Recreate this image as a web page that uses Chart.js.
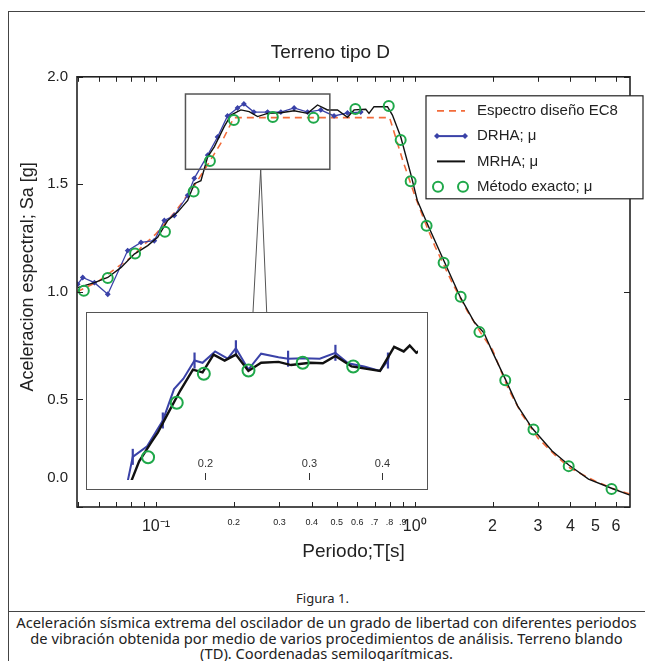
<!DOCTYPE html>
<html>
<head>
<meta charset="utf-8">
<script src="https://cdn.jsdelivr.net/npm/chart.js@4.4.1/dist/chart.umd.min.js"></script>
<style>
  body { margin: 0; background: #fff; }
  #fig { position: relative; width: 645px; height: 661px; overflow: hidden; background: #fff; }
  #frame { position: absolute; left: 8px; top: 11px; width: 700px; height: 700px;
           border-left: 1.5px solid #444; border-top: 1.5px solid #444; }
  #main { position: absolute; left: 0; top: 0; }
  #insetBox { position: absolute; left: 86px; top: 312px; width: 342px; height: 178px;
              border: 1.5px solid #555; box-sizing: border-box; background: #fff; }
  #figLabel { position: absolute; left: 0; top: 589px; width: 645px; text-align: center;
              font: 13px "Noto Sans", sans-serif; color: #222; }
  #caption { position: absolute; left: 8px; top: 611px; width: 637px; padding-top: 3px;
             border-top: 1.5px solid #444; text-align: center;
             font: 14.7px/15.5px "Noto Sans", sans-serif; color: #222; white-space: nowrap; }
</style>
</head>
<body>
<div id="fig">
  <div id="frame"></div>
  <canvas id="main" width="645" height="575"></canvas>
  <div id="insetBox"><canvas id="inset" width="339" height="175"></canvas></div>
  <div id="figLabel">Figura 1.</div>
  <div id="caption">Aceleración sísmica extrema del oscilador de un grado de libertad con diferentes periodos<br>de vibración obtenida por medio de varios procedimientos de análisis. Terreno blando<br>(TD). Coordenadas semilogarítmicas.</div>
</div>
<script>
// main plot: periods T [s] and spectral accel Sa [g]
const ec8T  = [0.0495, 0.06, 0.07, 0.08, 0.09, 0.1, 0.12, 0.14, 0.16, 0.18, 0.2, 0.8, 0.9, 1.0, 1.1, 1.2, 1.4, 1.6, 1.8, 2.0, 2.3, 2.6, 3.0, 3.5, 4.0, 5.0, 6.0, 6.8];
const ec8Sa = [1.00, 1.05, 1.11, 1.16, 1.22, 1.27, 1.38, 1.49, 1.60, 1.70, 1.81, 1.81, 1.61, 1.45, 1.32, 1.21, 1.04, 0.91, 0.81, 0.73, 0.55, 0.43, 0.32, 0.24, 0.18, 0.12, 0.08, 0.06];

const mrhaT  = [0.0498, 0.0578, 0.0651, 0.0733, 0.0824, 0.0929, 0.1015, 0.111, 0.1213, 0.1326, 0.1406, 0.1492, 0.1584, 0.168, 0.1835, 0.1948, 0.2129, 0.2292, 0.247, 0.27, 0.3039, 0.342, 0.3853, 0.4211, 0.4603, 0.503, 0.55, 0.5832, 0.647, 0.666, 0.6964, 0.785, 0.8204, 0.883, 0.965, 1.024, 1.12, 1.297, 1.505, 1.7, 1.852, 2.0, 2.246, 2.5, 2.848, 3.4, 3.943, 4.7, 5.8, 6.8];
const mrhaSa = [1.020, 1.043, 1.067, 1.114, 1.176, 1.215, 1.254, 1.332, 1.371, 1.425, 1.503, 1.517, 1.628, 1.674, 1.768, 1.822, 1.846, 1.838, 1.815, 1.830, 1.833, 1.842, 1.830, 1.869, 1.846, 1.846, 1.812, 1.846, 1.849, 1.830, 1.861, 1.861, 1.822, 1.721, 1.55, 1.425, 1.316, 1.145, 0.973, 0.86, 0.81, 0.72, 0.592, 0.47, 0.366, 0.26, 0.195, 0.13, 0.086, 0.055];

const drhaT  = [0.0498, 0.0521, 0.0578, 0.0651, 0.0777, 0.0875, 0.0985, 0.1077, 0.1177, 0.1326, 0.1406, 0.1584, 0.173, 0.189, 0.2067, 0.2187, 0.239, 0.27, 0.3039, 0.342, 0.3853, 0.4335, 0.488, 0.55, 0.6187];
const drhaSa = [1.036, 1.067, 1.043, 0.989, 1.192, 1.230, 1.238, 1.332, 1.355, 1.449, 1.528, 1.636, 1.72, 1.818, 1.855, 1.874, 1.836, 1.836, 1.836, 1.855, 1.836, 1.846, 1.818, 1.832, 1.836];

const exactT  = [0.0526, 0.0651, 0.083, 0.1083, 0.1398, 0.1616, 0.2, 0.2829, 0.4063, 0.59, 0.794, 0.883, 0.965, 1.112, 1.294, 1.506, 1.78, 2.24, 2.88, 3.94, 5.77];
const exactSa = [1.005, 1.065, 1.178, 1.280, 1.467, 1.609, 1.799, 1.813, 1.81, 1.85, 1.864, 1.706, 1.514, 1.308, 1.136, 0.977, 0.813, 0.589, 0.36, 0.19, 0.084];

// inset (zoom of the plateau start)
const insetExactT  = [0.160, 0.179, 0.199, 0.237, 0.293, 0.357];
const insetExactSa = [1.62, 1.74, 1.804, 1.811, 1.828, 1.82];
const insetMrhaT  = [0.148, 0.1545, 0.1622, 0.1662, 0.1725, 0.1815, 0.1907, 0.198, 0.2067, 0.2159, 0.2256, 0.2369, 0.249, 0.2665, 0.28, 0.3016, 0.317, 0.333, 0.3547, 0.3965, 0.419, 0.435, 0.4453, 0.457, 0.47];
const insetMrhaSa = [1.55, 1.611, 1.654, 1.674, 1.714, 1.767, 1.813, 1.807, 1.846, 1.833, 1.846, 1.81, 1.828, 1.83, 1.823, 1.828, 1.827, 1.843, 1.82, 1.81, 1.863, 1.853, 1.866, 1.85, 1.86];
const insetDrhaT  = [0.1468, 0.1507, 0.1594, 0.1695, 0.1771, 0.1837, 0.1919, 0.198, 0.208, 0.2185, 0.2256, 0.2369, 0.249, 0.2665, 0.2767, 0.2943, 0.3132, 0.333, 0.35, 0.3726, 0.3965, 0.409, 0.411];
const insetDrhaSa = [1.55, 1.621, 1.644, 1.701, 1.77, 1.793, 1.833, 1.828, 1.853, 1.837, 1.86, 1.813, 1.848, 1.84, 1.837, 1.838, 1.837, 1.85, 1.827, 1.82, 1.81, 1.833, 1.846];
const insetDrhaMarks = [1, 3, 6, 10, 14, 17, 21];

// zoom window drawn on the main plot, and its connector to the inset
const zoomBoxT = [0.13, 0.47];
const zoomBoxSa = [1.57, 1.92];
const connectorT = [0.254, 0.237, 0.268];
const connectorSa = [1.57, 0.9];

// axis ticks
const xTickValues = [0.05, 0.06, 0.07, 0.08, 0.09, 0.1, 0.2, 0.3, 0.4, 0.5, 0.6, 0.7, 0.8, 0.9, 1, 2, 3, 4, 5, 6];
const xTickLabels = ['', '', '', '', '', '10\u207B\u00B9', '0.2', '0.3', '0.4', '0.5', '0.6', '.7', '.8', '.9', '10\u2070', '2', '3', '4', '5', '6'];
const yTickValues = [0, 0.5, 1, 1.5, 2];
const yTickLabels = ['0.0', '0.5', '1.0', '1.5', '2.0'];
const insetTickValues = [0.2, 0.3, 0.4];
const insetTickLabels = ['0.2', '0.3', '0.4'];

const FONT = '"Liberation Sans", Arial, sans-serif';
Chart.defaults.font.family = FONT;
Chart.defaults.color = '#222';

const pts = (xs, ys) => xs.map((x, i) => ({ x: x, y: ys[i] }));

const RED = '#f26b3a', BLUE = '#3a42a8', BLACK = '#111', GREEN = '#1fa84a';

const frameTicks = {
  id: 'frameTicks',
  afterDatasetsDraw(chart) {
    const { ctx, chartArea: a, scales: { x, y } } = chart;
    ctx.save();
    ctx.strokeStyle = '#222';
    ctx.lineWidth = 1;
    ctx.beginPath();
    x.ticks.forEach(t => {
      const px = Math.round(x.getPixelForValue(t.value)) + 0.5;
      ctx.moveTo(px, a.bottom); ctx.lineTo(px, a.bottom - 5);
      ctx.moveTo(px, a.top); ctx.lineTo(px, a.top + 5);
    });
    y.ticks.forEach(t => {
      const py = Math.round(y.getPixelForValue(t.value)) + 0.5;
      ctx.moveTo(a.left, py); ctx.lineTo(a.left + 6, py);
      ctx.moveTo(a.right, py); ctx.lineTo(a.right - 6, py);
    });
    ctx.stroke();

    // zoom window + connector
    ctx.strokeStyle = '#555';
    ctx.lineWidth = 1.5;
    const bx0 = x.getPixelForValue(zoomBoxT[0]), bx1 = x.getPixelForValue(zoomBoxT[1]);
    const by0 = y.getPixelForValue(zoomBoxSa[1]), by1 = y.getPixelForValue(zoomBoxSa[0]);
    ctx.strokeRect(bx0, by0, bx1 - bx0, by1 - by0);
    ctx.lineWidth = 1;
    ctx.beginPath();
    const cx = x.getPixelForValue(connectorT[0]), cy = y.getPixelForValue(connectorSa[0]);
    ctx.moveTo(x.getPixelForValue(connectorT[1]), y.getPixelForValue(connectorSa[1]));
    ctx.lineTo(cx, cy);
    ctx.lineTo(x.getPixelForValue(connectorT[2]), y.getPixelForValue(connectorSa[1]));
    ctx.stroke();

    ctx.strokeStyle = '#222';
    ctx.lineWidth = 1.6;
    ctx.strokeRect(a.left, a.top, a.width, a.height);

    // the 0.0 label sits above the axis corner in the original
    ctx.font = '15px ' + FONT;
    ctx.fillStyle = '#222';
    ctx.textAlign = 'right';
    ctx.textBaseline = 'middle';
    ctx.fillText(yTickLabels[0], a.left - 9, y.getPixelForValue(0) - 29);
    ctx.restore();
  }
};

const boxLegend = {
  id: 'boxLegend',
  afterDraw(chart) {
    const { ctx, chartArea: a } = chart;
    const left = a.right - 204, top = a.top + 19, w = 217, h = 103;
    ctx.save();
    ctx.fillStyle = '#fff';
    ctx.fillRect(left, top, w, h);
    ctx.strokeStyle = '#222';
    ctx.lineWidth = 1.2;
    ctx.strokeRect(left, top, w, h);
    const rows = [3, 2, 1, 0];
    rows.forEach((di, r) => {
      const ds = chart.data.datasets[di];
      const cy = top + 15 + r * 25.3;
      const x0 = left + 11, x1 = left + 39;
      ctx.save();
      if (di === 0) {
        ctx.strokeStyle = GREEN; ctx.lineWidth = 2;
        [x0 + 1, x1 - 2].forEach(px => { ctx.beginPath(); ctx.arc(px, cy, 5, 0, Math.PI * 2); ctx.stroke(); });
      } else {
        ctx.strokeStyle = ds.borderColor; ctx.lineWidth = di === 3 ? 1.8 : 2;
        ctx.setLineDash(ds.borderDash || []);
        ctx.beginPath(); ctx.moveTo(x0, cy); ctx.lineTo(x1, cy); ctx.stroke();
        if (di === 2) {
          ctx.fillStyle = BLUE;
          [x0, x1].forEach(px => {
            ctx.beginPath(); ctx.moveTo(px - 3, cy); ctx.lineTo(px, cy - 3); ctx.lineTo(px + 3, cy); ctx.lineTo(px, cy + 3); ctx.fill();
          });
        }
      }
      ctx.restore();
      ctx.font = '15px ' + FONT;
      ctx.fillStyle = '#222';
      ctx.textAlign = 'left';
      ctx.textBaseline = 'middle';
      ctx.fillText(ds.label, left + 51, cy);
    });
    ctx.restore();
  }
};

new Chart(document.getElementById('main'), {
  type: 'scatter',
  data: {
    datasets: [
      { label: 'Método exacto; μ', data: pts(exactT, exactSa), showLine: false,
        pointStyle: 'circle', pointRadius: 5, pointBorderWidth: 2,
        pointBorderColor: GREEN, pointBackgroundColor: 'rgba(0,0,0,0)', borderColor: GREEN },
      { label: 'MRHA; μ', data: pts(mrhaT, mrhaSa), showLine: true,
        borderColor: BLACK, borderWidth: 1.4, pointRadius: 0 },
      { label: 'DRHA; μ', data: pts(drhaT, drhaSa), showLine: true,
        borderColor: BLUE, borderWidth: 1.3, pointRadius: 2, pointStyle: 'rectRot',
        pointBackgroundColor: BLUE, pointBorderColor: BLUE },
      { label: 'Espectro diseño EC8', data: pts(ec8T, ec8Sa), showLine: true,
        borderColor: RED, borderDash: [7, 5], borderWidth: 1.6, pointRadius: 0 }
    ]
  },
  options: {
    responsive: false,
    animation: false,
    layout: { padding: { left: 15, right: 15, top: 0, bottom: 0 } },
    plugins: {
      legend: { display: false },
      tooltip: { enabled: false },
      // leading spaces nudge the centred title right, as in the original
      title: { display: true, text: '   Terreno tipo D', color: '#222',
               font: { size: 19, weight: 'normal' }, padding: { top: 41, bottom: 13 } }
    },
    scales: {
      x: {
        type: 'logarithmic', min: 0.0495, max: 6.8,
        grid: { display: false, drawTicks: false }, border: { display: false },
        afterBuildTicks: s => { s.ticks = xTickValues.map(v => ({ value: v })); },
        afterFit: s => { s.height = 68; },
        ticks: {
          autoSkip: false, maxRotation: 0, minRotation: 0, padding: 10, color: '#222',
          callback: (v, i) => xTickLabels[i],
          font: c => {
            const v = c.tick ? c.tick.value : 1;
            return { size: (v > 0.15 && v < 0.95) ? 9 : 16 };
          }
        },
        title: { display: true, text: 'Periodo;T[s]', color: '#222',
                 font: { size: 19 }, padding: { top: 4, bottom: 12 } }
      },
      y: {
        min: 0, max: 2,
        grid: { display: false, drawTicks: false }, border: { display: false },
        afterBuildTicks: s => { s.ticks = yTickValues.map(v => ({ value: v })); },
        afterFit: s => { s.width = 62; },
        ticks: { padding: 9, color: '#222', font: { size: 15 },
                 callback: (v, i) => i === 0 ? '' : yTickLabels[i] },
        // leading spaces lift the centred label, as in the original
        title: { display: true, text: '      Aceleracion espectral; Sa [g]', color: '#222',
                 font: { size: 18 }, padding: { top: 2, bottom: 0 } }
      }
    }
  },
  plugins: [frameTicks, boxLegend]
});

const insetTicks = {
  id: 'insetTicks',
  afterDraw(chart) {
    const { ctx, chartArea: a, scales: { x } } = chart;
    ctx.save();
    ctx.strokeStyle = '#333';
    ctx.lineWidth = 1;
    ctx.fillStyle = '#333';
    ctx.font = '11px ' + FONT;
    ctx.textAlign = 'center';
    ctx.textBaseline = 'middle';
    insetTickValues.forEach((v, i) => {
      const px = Math.round(x.getPixelForValue(v)) + 0.5;
      ctx.beginPath(); ctx.moveTo(px, a.bottom); ctx.lineTo(px, a.bottom - 7); ctx.stroke();
      ctx.fillText(insetTickLabels[i], px, a.bottom - 16);
    });
    ctx.restore();
  }
};

new Chart(document.getElementById('inset'), {
  type: 'scatter',
  data: {
    datasets: [
      { label: 'Método exacto; μ', data: pts(insetExactT, insetExactSa), showLine: false,
        pointRadius: 6, pointBorderWidth: 2, pointBorderColor: GREEN,
        pointBackgroundColor: 'rgba(0,0,0,0)' },
      { label: 'MRHA; μ', data: pts(insetMrhaT, insetMrhaSa), showLine: true,
        borderColor: BLACK, borderWidth: 2.4, pointRadius: 0 },
      { label: 'DRHA; μ', data: pts(insetDrhaT, insetDrhaSa), showLine: true,
        borderColor: BLUE, borderWidth: 2, pointStyle: 'line', pointRotation: 90,
        pointBorderColor: BLUE, pointBorderWidth: 2.2,
        pointRadius: c => insetDrhaMarks.includes(c.dataIndex) ? 8 : 0 }
    ]
  },
  options: {
    responsive: false,
    animation: false,
    layout: { padding: 0 },
    plugins: { legend: { display: false }, tooltip: { enabled: false } },
    scales: {
      x: { type: 'logarithmic', display: false, min: 0.13, max: 0.46 },
      y: { display: false, min: 1.57, max: 1.92 }
    }
  },
  plugins: [insetTicks]
});
</script>
</body>
</html>
